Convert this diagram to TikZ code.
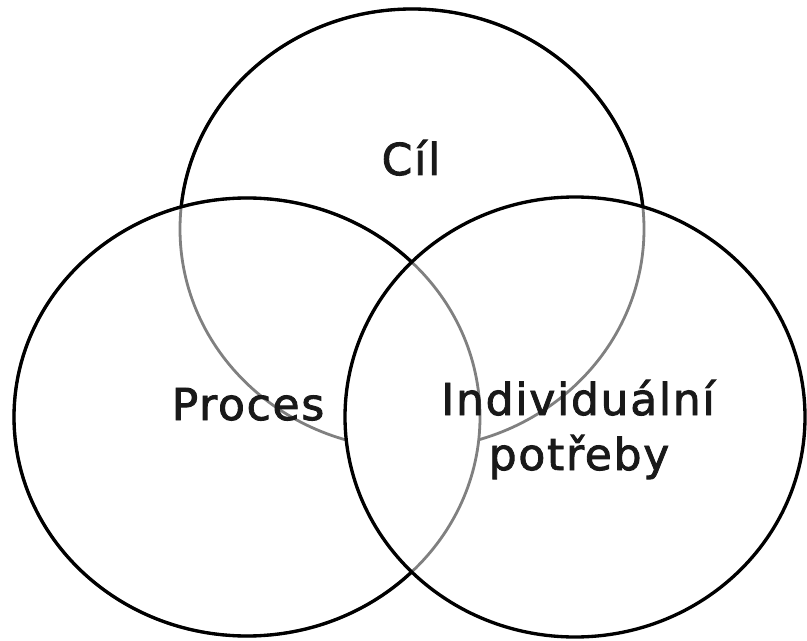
\documentclass[tikz,border=0pt]{standalone}
\usepackage{fontspec}
\setmainfont{DejaVu Sans}
\newfontfamily\lblfont{DejaVu Sans}[LetterSpace=4, FakeBold=2]
\begin{document}
\begin{tikzpicture}[x=0.02cm,y=-0.02cm]
\tikzset{
  ring/.style={line width=1.9pt, draw=black},
  faint/.style={line width=1.6pt, draw=black!50},
  lbl/.style={font=\lblfont\fontsize{25}{30}\selectfont, anchor=base, inner sep=0pt, text=black!90}
}
\useasboundingbox (0,0) rectangle (807,641);
\coordinate (cT) at (412,229);
\coordinate (cL) at (247,417);
\coordinate (cR) at (575,417);
% top circle: grey everywhere, black outside the other two
\draw[faint] (cT) ellipse [x radius=232, y radius=220];
\begin{scope}[even odd rule]
  \clip (-20,-20) rectangle (830,660) (cL) ellipse [x radius=233, y radius=219];
  \clip (-20,-20) rectangle (830,660) (cR) ellipse [x radius=230, y radius=220];
  \draw[ring] (cT) ellipse [x radius=232, y radius=220];
\end{scope}
% erase top circle inside the common part of left and right
\begin{scope}
  \clip (cL) ellipse [x radius=233, y radius=219];
  \fill[white] (cR) ellipse [x radius=230, y radius=220];
\end{scope}
% left circle: grey inside right circle, black elsewhere
\draw[faint] (cL) ellipse [x radius=233, y radius=219];
\begin{scope}[even odd rule]
  \clip (-20,-20) rectangle (830,660) (cR) ellipse [x radius=230, y radius=220];
  \draw[ring] (cL) ellipse [x radius=233, y radius=219];
\end{scope}
% right circle
\draw[ring] (cR) ellipse [x radius=230, y radius=220];
% labels
\node[lbl] (cil) at (411,175) {Cíl};
\node[lbl] (proces) at (248,420) {Proces};
\node[lbl] (indiv) at (578,415) {Individuální};
\node[lbl] (potreby) at (579,470) {potřeby};
\end{tikzpicture}
\end{document}
